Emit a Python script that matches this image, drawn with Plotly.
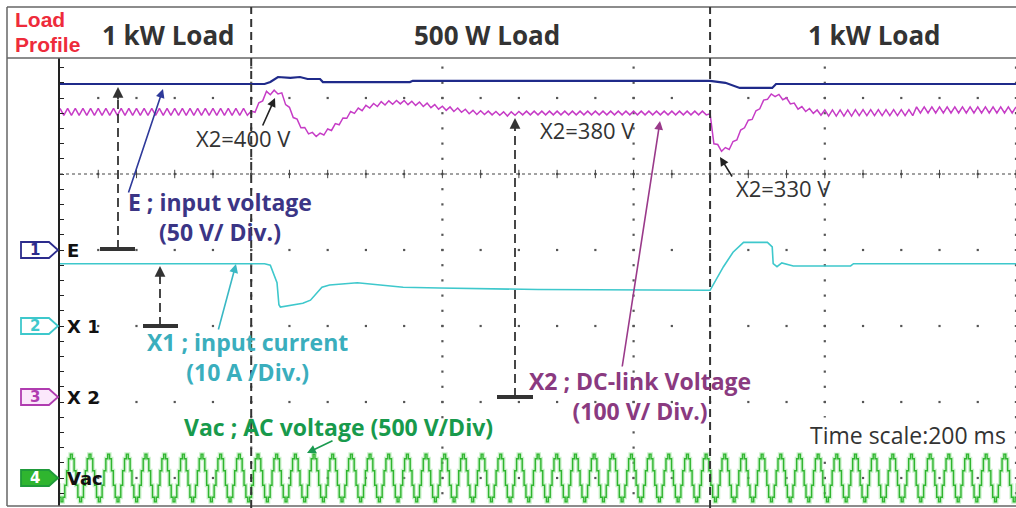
import numpy as np
import plotly.graph_objects as go

# ---------------- data ----------------
# time axis in ms (200 ms / div), load steps
load_steps = [200, 680]
load_labels = ["1 kW Load", "500 W Load", "1 kW Load"]

# E : input voltage [V]  (50 V/div)
e_time = [0, 214, 220, 228, 241, 251, 259, 272, 275, 366, 369, 680, 696, 711, 745, 749, 1000]
e_volt = [109.2, 109.2, 110.5, 113.8, 113.2, 113.8, 112.5, 112.5, 110.5, 110.5, 111.3,
          111.3, 110.0, 106.6, 106.6, 109.2, 109.2]

# X1 : input current [A]  (10 A/div)
x1_time = [0, 214, 220, 223, 227, 229, 230.5, 254, 262, 274, 282, 311, 338, 359, 397, 500,
           680, 694, 704, 715, 740, 745, 746, 750, 755, 767, 827, 830, 1000]
x1_amp = [8.2, 8.2, 8.0, 7.0, 5.7, 2.8, 2.5, 3.0, 3.4, 5.1, 5.4, 5.7, 5.4, 5.1, 5.0, 4.8,
          4.7, 7.8, 9.7, 11.0, 11.0, 10.4, 8.2, 7.8, 8.3, 7.9, 7.9, 8.2, 8.2]

# X2 : DC-link voltage [V] (100 V/div), one sample every 4 ms
x2_step_ms = 4.0
x2_volt = (
    [381, 372] * 25
    + [377.5, 376, 388.5, 391, 403.5, 399, 405, 400, 401.5, 386,
       382.5, 369, 367, 355.5, 356, 347.5, 349.5, 344, 348.5, 346,
       354, 352, 361, 359.5, 368.5, 368, 377, 374.5, 381.5, 378,
       385, 381.5, 387.5, 383.5, 390, 385.5, 391, 386.5, 391.5, 387,
       391.5, 386, 390.5, 385, 389.5, 383.5, 388, 382, 386, 380,
       384, 378.5, 383, 377, 381.5, 376, 380, 374, 378.5, 373,
       378, 373, 377.5, 372.5, 377, 372, 376.5, 371, 376.5, 372,
       377, 372.5, 377.5, 372.5, 377.5, 372.5]
    + [377.5, 372.5] * 22
    + [374, 334.5, 333.5, 324.5, 329.5, 327, 337.5, 339.5, 352.5, 355.5,
       365.5, 366.5, 378, 380.5, 392, 393, 400, 396.5, 399.5, 392.5,
       395, 387, 388, 380, 383.5, 377, 381, 374.5, 379, 372,
       379, 371, 379, 371, 379, 371, 379, 371]
    + [379.5, 371.5] * 8
    + [383, 375] * 13 + [383]
)

# Vac : AC voltage [V] (500 V/div) - one sampled cycle as seen on the scope, repeated
vac_cycle = [157, 127, 48, -48, -127, -157, -127, -48, 48, 127]
vac_cycles = 53
vac_period_ms = 19.53
vac_start_ms = -7.7
vac_volt = vac_cycle * vac_cycles

# channel ground positions (div) and scales (unit/div)
E_GND, E_SCALE = 3.0, 50.0
X1_GND, X1_SCALE = 2.0, 10.0
X2_GND, X2_SCALE = 80 / 76, 100.0
VAC_GND, VAC_SCALE = 0.0, 500.0

# ---------------- geometry helpers ----------------
W, H = 1016, 508
PL, PR, PT, PB = 60, 1016, 58, 506
T_MAX = 1000.0
Y_MIN, Y_MAX = (478 - PB) / 76, (478 - PT) / 76


def dx(px):
    return (px - PL) / (PR - PL) * T_MAX


def dy(py):
    return (478 - py) / 76


def ppx(px):
    return (px - PL) / (PR - PL)


def ppy(py):
    return (PB - py) / (PB - PT)


def to_div(vals, gnd, scale):
    return [gnd + v / scale for v in vals]


fig = go.Figure()

# ---------------- grid dots ----------------
gx, gy = [], []
for row in range(0, 6):
    for k in range(1, 26):
        gx.append(k * 40)
        gy.append(row)
for col in range(1, 6):
    for k in range(-2, 29):
        yv = k * 0.2
        if Y_MIN <= yv <= Y_MAX:
            gx.append(col * 200)
            gy.append(yv)
fig.add_trace(go.Scatter(x=gx, y=gy, mode="markers", hoverinfo="skip",
                         marker=dict(symbol="square", size=2.2, color="#555"),
                         showlegend=False))
# ticks on the dotted line (row 4)
fig.add_trace(go.Scatter(x=[k * 40 for k in range(1, 26)], y=[4] * 25, mode="markers",
                         hoverinfo="skip", showlegend=False,
                         marker=dict(symbol="line-ns", size=6, line=dict(width=1, color="#444"))))

# ---------------- traces ----------------
vac_time = [vac_start_ms + i * vac_period_ms / len(vac_cycle) for i in range(len(vac_volt))]
vac_div = to_div(vac_volt, VAC_GND, VAC_SCALE)
fig.add_trace(go.Scatter(x=vac_time, y=vac_div, mode="lines", line_shape="hvh", hoverinfo="skip",
                         line=dict(color="rgba(140,225,140,0.45)", width=4), showlegend=False))
fig.add_trace(go.Scatter(x=vac_time, y=vac_div, mode="lines", line_shape="hvh", name="Vac",
                         line=dict(color="#2fb52f", width=1.4), showlegend=False))

fig.add_trace(go.Scatter(x=x1_time, y=to_div(x1_amp, X1_GND, X1_SCALE), mode="lines", name="X1",
                         line=dict(color="#3ec8cc", width=1.6), showlegend=False))

x2_time = [i * x2_step_ms for i in range(len(x2_volt))]
fig.add_trace(go.Scatter(x=x2_time, y=to_div(x2_volt, X2_GND, X2_SCALE), mode="lines", name="X2",
                         line=dict(color="#c63cc6", width=1.5), showlegend=False))

fig.add_trace(go.Scatter(x=e_time, y=to_div(e_volt, E_GND, E_SCALE), mode="lines", name="E",
                         line=dict(color="#1f2a8a", width=2.2), showlegend=False))

shapes = []
ann = []

# dotted cursor line at row 4
shapes.append(dict(type="line", xref="x", yref="y", x0=0, x1=T_MAX, y0=4, y1=4,
                   line=dict(color="#444", width=1, dash="dot")))

# frame / header
fc = "#666"
shapes += [
    dict(type="line", xref="paper", yref="paper", x0=ppx(7), x1=ppx(1016), y0=ppy(7), y1=ppy(7),
         line=dict(color=fc, width=1.5)),
    dict(type="line", xref="paper", yref="paper", x0=ppx(7), x1=ppx(1016), y0=ppy(58), y1=ppy(58),
         line=dict(color=fc, width=1.5)),
    dict(type="line", xref="paper", yref="paper", x0=ppx(7), x1=ppx(7), y0=ppy(7), y1=ppy(506),
         line=dict(color=fc, width=1.5)),
    dict(type="line", xref="paper", yref="paper", x0=ppx(7), x1=ppx(1016), y0=ppy(506), y1=ppy(506),
         line=dict(color=fc, width=1.5)),
]

# load step dashed lines
for ts in load_steps:
    shapes.append(dict(type="line", xref="x", yref="paper", x0=ts, x1=ts, y0=ppy(508), y1=ppy(7),
                       line=dict(color="#333", width=2, dash="8px,5px")))

# header texts
ann.append(dict(x=ppx(13), y=ppy(20), xref="paper", yref="paper", text="<b>Load</b>",
                showarrow=False, xanchor="left", yanchor="middle",
                font=dict(family="Liberation Sans", size=21, color="#ee2b3b")))
ann.append(dict(x=ppx(13), y=ppy(44), xref="paper", yref="paper", text="<b>Profile</b>",
                showarrow=False, xanchor="left", yanchor="middle",
                font=dict(family="Liberation Sans", size=21, color="#ee2b3b")))
for cx, lab in zip([168, 487, 874], load_labels):
    ann.append(dict(x=ppx(cx), y=ppy(35), xref="paper", yref="paper", text="<b>%s</b>" % lab,
                    showarrow=False, xanchor="center", yanchor="middle",
                    font=dict(family="Open Sans", size=26, color="#333")))

# channel badges + labels
badges = [("1", "E", 250, "#2b2b8c", "white", "#2b2b8c"),
          ("2", "X 1", 326, "#3ec8cc", "white", "#3ec8cc"),
          ("3", "X 2", 397, "#b03cb0", "#fbe8fb", "#b03cb0"),
          ("4", "Vac", 478, "#1f9a3a", "#2fb52f", "white")]
for num, lab, cy, lc, fcol, tcol in badges:
    path = "M %f %f L %f %f L %f %f L %f %f L %f %f Z" % (
        ppx(21), ppy(cy - 8), ppx(49), ppy(cy - 8), ppx(58), ppy(cy),
        ppx(49), ppy(cy + 8), ppx(21), ppy(cy + 8))
    shapes.append(dict(type="path", xref="paper", yref="paper", path=path,
                       line=dict(color=lc, width=1.8), fillcolor=fcol))
    ann.append(dict(x=ppx(35), y=ppy(cy), xref="paper", yref="paper", text="<b>%s</b>" % num,
                    showarrow=False, xanchor="center", yanchor="middle",
                    font=dict(family="DejaVu Sans", size=15, color=tcol)))
    ann.append(dict(x=ppx(65), y=ppy(cy), xref="paper", yref="paper", text="<b>%s</b>" % lab,
                    showarrow=False, xanchor="left", yanchor="middle",
                    font=dict(family="DejaVu Sans", size=18, color="#111")))

# ground bars + dashed arrows
for (bx0, bx1, by, ax_, top) in [(100, 135, 249, 118, 87), (143, 178, 326, 160, 266),
                                  (497, 533, 397, 515, 118)]:
    shapes.append(dict(type="line", xref="x", yref="y", x0=dx(bx0), x1=dx(bx1), y0=dy(by), y1=dy(by),
                       line=dict(color="#333", width=4)))
    shapes.append(dict(type="line", xref="x", yref="y", x0=dx(ax_), x1=dx(ax_), y0=dy(by), y1=dy(top + 12),
                       line=dict(color="#333", width=1.8, dash="9px,5px")))
    ann.append(dict(x=dx(ax_), y=dy(top), ax=dx(ax_), ay=dy(top + 14), xref="x", yref="y",
                    axref="x", ayref="y", text="", showarrow=True, arrowhead=2, arrowsize=1.2,
                    arrowwidth=1.8, arrowcolor="#333"))


def arrow(x0, y0, x1, y1, color, w=1.6):
    ann.append(dict(x=dx(x1), y=dy(y1), ax=dx(x0), ay=dy(y0), xref="x", yref="y",
                    axref="x", ayref="y", text="", showarrow=True, arrowhead=2, arrowsize=1.1,
                    arrowwidth=w, arrowcolor=color))


def label(cx, cy, text, color, size=24, bold=True, bg=None):
    t = "<b>%s</b>" % text if bold else text
    d = dict(x=dx(cx), y=dy(cy), xref="x", yref="y", text=t, showarrow=False,
             xanchor="center", yanchor="middle", align="center",
             font=dict(family="Open Sans", size=size, color=color))
    if bg:
        d["bgcolor"] = bg
    ann.append(d)


# callouts
arrow(128, 194, 163, 89, "#2e3a9a")
label(220, 217, "E ; input voltage<br>(50 V/ Div.)", "#3b3585", size=23)
arrow(218, 331, 236, 264, "#3ab8c4")
label(247, 357, "X1 ; input current<br>(10 A /Div.)", "#3aaebd", size=23)
arrow(622, 368, 660, 121, "#9a3a8a")
label(640, 396, "X2 ; DC-link Voltage<br>(100 V/ Div.)", "#8a3a80", size=23)
arrow(334, 440, 307, 453, "#1a9a50")
label(338, 427, "Vac ; AC voltage (500 V/Div)", "#189a4c", size=23)

label(243, 138, "X2=400 V", "#333", size=22, bold=False)
arrow(262, 127, 275, 98, "#222")
label(587, 130, "X2=380 V", "#333", size=22, bold=False)
label(783, 188, "X2=330 V", "#333", size=22, bold=False)
arrow(733, 178, 720, 157, "#222")
label(908, 435, "Time scale:200 ms", "#333", size=23, bold=False, bg="white")

fig.update_layout(
    width=W, height=H, margin=dict(l=PL, r=W - PR, t=PT, b=H - PB, pad=0),
    paper_bgcolor="white", plot_bgcolor="white",
    shapes=shapes, annotations=ann, showlegend=False,
    xaxis=dict(range=[0, T_MAX], showgrid=False, zeroline=False, showticklabels=False,
               showline=False, ticks=""),
    yaxis=dict(range=[Y_MIN, Y_MAX], showgrid=False, zeroline=False, showticklabels=False,
               showline=True, linecolor="#222", linewidth=2, ticks="inside", ticklen=4,
               tickwidth=1, tickcolor="#222", dtick=0.2, tick0=0),
)

fig.write_html("out.html")
